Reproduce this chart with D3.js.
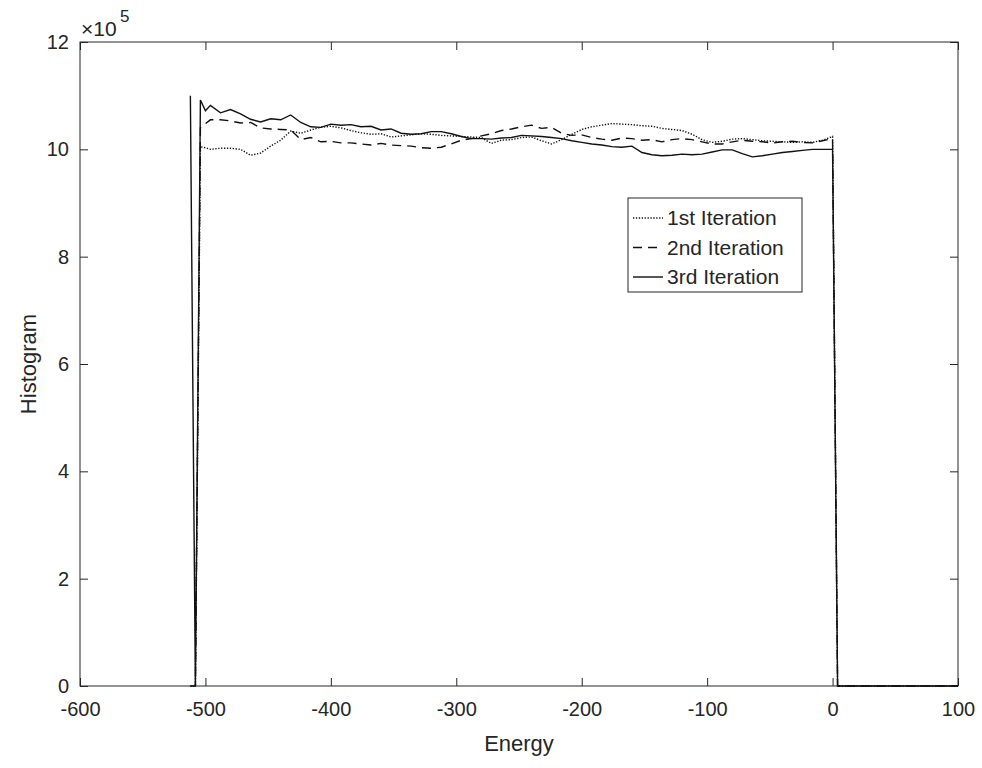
<!DOCTYPE html>
<html>
<head>
<meta charset="utf-8">
<script src="https://cdn.jsdelivr.net/npm/d3@7"></script>
<style>
  body { margin: 0; background: #fff; }
  svg { display: block; }
  text { font-family: "Liberation Sans", Arial, sans-serif; fill: #262626; }
</style>
</head>
<body>
<div id="chart"></div>
<script>
// energy bins (histogram values in units of 1e5)
const energy = [-512, -508, -504, -500, -496, -488, -480, -472, -464, -456, -448, -440, -432, -424,
  -416, -408, -400, -392, -384, -376, -368, -360, -352, -344, -336, -328, -320, -312, -304, -296,
  -288, -280, -272, -264, -256, -248, -240, -232, -224, -216, -208, -200, -192, -184, -176, -168,
  -160, -152, -144, -136, -128, -120, -112, -104, -96, -88, -80, -72, -64, -56, -48, -40, -32, -24,
  -16, -8, 0, 4, 100];

const iter1 = [0, 0, 10.05, 10.03, 10.00, 10.02, 10.02, 10.00, 9.89, 9.93, 10.06, 10.17, 10.34, 10.30,
  10.36, 10.41, 10.43, 10.40, 10.35, 10.31, 10.28, 10.29, 10.23, 10.25, 10.27, 10.29, 10.28, 10.26, 10.25, 10.24,
  10.23, 10.22, 10.11, 10.17, 10.18, 10.22, 10.23, 10.16, 10.10, 10.18, 10.28, 10.37, 10.42, 10.45, 10.48, 10.47,
  10.46, 10.44, 10.43, 10.39, 10.37, 10.35, 10.28, 10.18, 10.13, 10.15, 10.19, 10.20, 10.18, 10.16, 10.15, 10.14, 10.13, 10.14,
  10.13, 10.17, 10.24, 0, 0];

const iter2 = [0, 0, 10.40, 10.48, 10.55, 10.55, 10.53, 10.49, 10.50, 10.40, 10.38, 10.37, 10.36, 10.18,
  10.22, 10.14, 10.15, 10.12, 10.12, 10.10, 10.08, 10.11, 10.08, 10.07, 10.06, 10.03, 10.02, 10.04, 10.10, 10.17,
  10.20, 10.25, 10.29, 10.35, 10.38, 10.42, 10.45, 10.39, 10.41, 10.30, 10.26, 10.27, 10.22, 10.19, 10.17, 10.21,
  10.20, 10.17, 10.18, 10.14, 10.18, 10.20, 10.18, 10.14, 10.10, 10.10, 10.14, 10.17, 10.15, 10.14, 10.12, 10.14, 10.15, 10.13,
  10.12, 10.16, 10.20, 0, 0];

const iter3 = [11.00, 0, 10.92, 10.72, 10.82, 10.68, 10.74, 10.66, 10.56, 10.51, 10.57, 10.55, 10.64, 10.50,
  10.42, 10.41, 10.47, 10.45, 10.46, 10.42, 10.43, 10.36, 10.38, 10.30, 10.28, 10.29, 10.33, 10.33, 10.29, 10.24,
  10.20, 10.20, 10.19, 10.21, 10.22, 10.26, 10.25, 10.24, 10.22, 10.20, 10.16, 10.13, 10.10, 10.08, 10.05, 10.04,
  10.06, 9.94, 9.90, 9.88, 9.89, 9.91, 9.90, 9.91, 9.95, 9.99, 9.99, 9.92, 9.86, 9.88, 9.91, 9.94, 9.96, 9.98,
  10.00, 10.00, 10.00, 0, 0];

const xTicks = [-600, -500, -400, -300, -200, -100, 0, 100];
const yTicks = [0, 2, 4, 6, 8, 10, 12];
const seriesNames = ['1st Iteration', '2nd Iteration', '3rd Iteration'];

const W = 982, H = 768;
const box = { left: 80, top: 42, right: 958, bottom: 686 };

const svg = d3.select('#chart').append('svg')
  .attr('width', W)
  .attr('height', H);

const x = d3.scaleLinear().domain([-600, 100]).range([box.left, box.right]);
const y = d3.scaleLinear().domain([0, 12]).range([box.bottom, box.top]);

const tickLen = 8;
const fmt = d => String(d); // plain hyphen minus like matlab

// axes (ticks pointing inward, like matlab)
const gx = svg.append('g')
  .attr('transform', `translate(0,${box.bottom})`)
  .call(d3.axisBottom(x).tickValues(xTicks).tickSize(-tickLen).tickPadding(16).tickFormat(fmt));
svg.append('g')
  .attr('transform', `translate(0,${box.top})`)
  .call(d3.axisTop(x).tickValues(xTicks).tickSize(-tickLen).tickFormat(''));
const gy = svg.append('g')
  .attr('transform', `translate(${box.left},0)`)
  .call(d3.axisLeft(y).tickValues(yTicks).tickSize(-tickLen).tickPadding(11).tickFormat(fmt));
svg.append('g')
  .attr('transform', `translate(${box.right},0)`)
  .call(d3.axisRight(y).tickValues(yTicks).tickSize(-tickLen).tickFormat(''));

svg.selectAll('.domain').remove();
svg.selectAll('.tick line').attr('stroke', '#262626').attr('stroke-width', 1);
gx.selectAll('text').attr('font-size', 20).style('font-family', '"Liberation Sans", Arial, sans-serif');
gy.selectAll('text').attr('font-size', 20).style('font-family', '"Liberation Sans", Arial, sans-serif');

svg.append('rect')
  .attr('x', box.left).attr('y', box.top)
  .attr('width', box.right - box.left).attr('height', box.bottom - box.top)
  .attr('fill', 'none').attr('stroke', '#262626').attr('stroke-width', 1);

// exponent label
const expo = svg.append('text').attr('x', 81).attr('y', 36).attr('font-size', 21);
expo.append('tspan').text('×10');
expo.append('tspan').attr('x', 120).attr('y', 22).attr('font-size', 17).text('5');

// data lines
const styles = [
  { data: iter1, dash: '1.3,1.6' },
  { data: iter2, dash: '9,6' },
  { data: iter3, dash: null }
];

const line = d3.line()
  .x((d, i) => x(energy[i]))
  .y(d => y(d));

styles.forEach(s => {
  svg.append('path')
    .datum(s.data)
    .attr('d', line)
    .attr('fill', 'none')
    .attr('stroke', '#111')
    .attr('stroke-width', 1.4)
    .attr('stroke-dasharray', s.dash);
});

// axis labels
svg.append('text')
  .attr('x', (box.left + box.right) / 2)
  .attr('y', 751)
  .attr('text-anchor', 'middle')
  .attr('font-size', 22)
  .text('Energy');

svg.append('text')
  .attr('transform', `translate(36,${(box.top + box.bottom) / 2}) rotate(-90)`)
  .attr('text-anchor', 'middle')
  .attr('font-size', 22)
  .text('Histogram');

// legend
const leg = svg.append('g');
leg.append('rect')
  .attr('x', 628).attr('y', 198).attr('width', 174).attr('height', 94)
  .attr('fill', '#fff').attr('stroke', '#262626').attr('stroke-width', 1);

seriesNames.forEach((name, i) => {
  const ly = 218 + i * 29.5;
  leg.append('line')
    .attr('x1', 633).attr('x2', 663).attr('y1', ly).attr('y2', ly)
    .attr('stroke', '#111').attr('stroke-width', 1.4)
    .attr('stroke-dasharray', styles[i].dash);
  leg.append('text')
    .attr('x', 667).attr('y', ly).attr('dy', '0.35em')
    .attr('font-size', 21)
    .text(name);
});
</script>
</body>
</html>
